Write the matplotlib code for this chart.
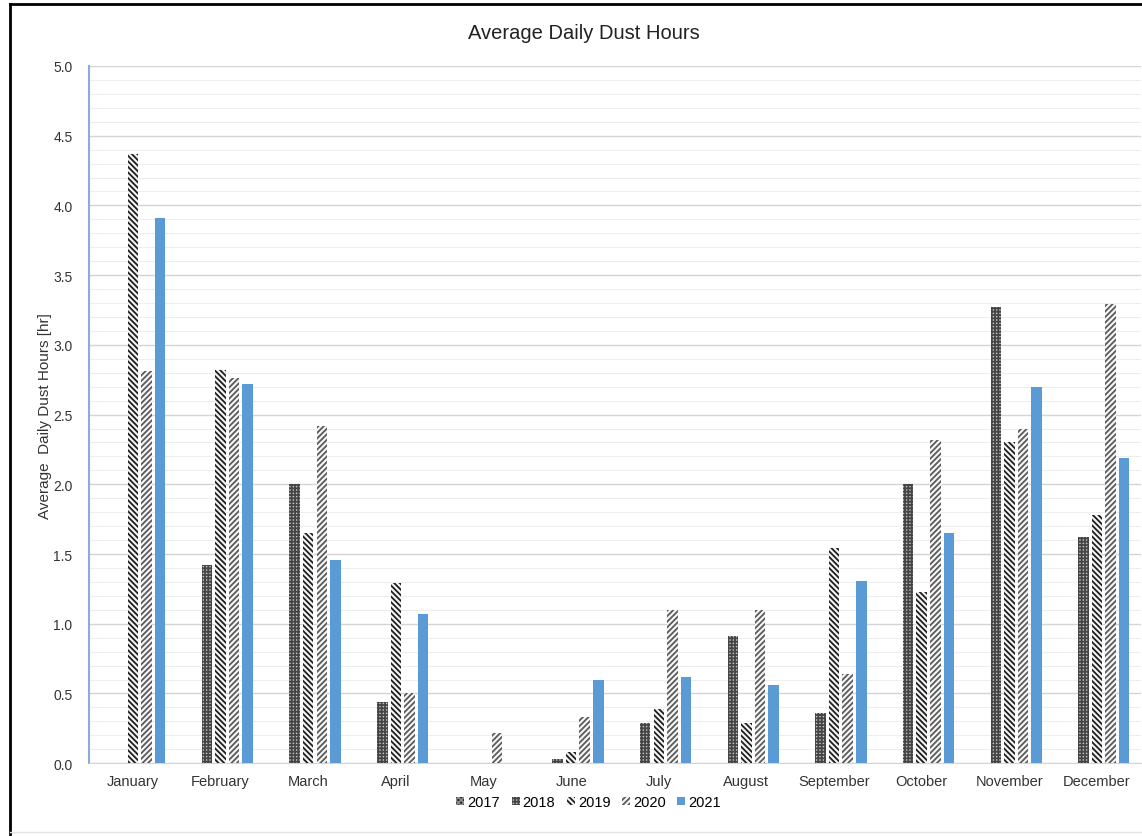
import numpy as np
import matplotlib
matplotlib.use("Agg")
import matplotlib.pyplot as plt
from matplotlib.lines import Line2D

plt.rcParams['font.family'] = ['Liberation Sans', 'DejaVu Sans']
plt.rcParams['hatch.linewidth'] = 1.3

# Data
months = ['January', 'February', 'March', 'April', 'May', 'June',
          'July', 'August', 'September', 'October', 'November', 'December']
years = ['2017', '2018', '2019', '2020', '2021']
v2017 = [0, 0, 0, 0, 0, 0, 0, 0, 0, 0, 0, 0]
v2018 = [0, 1.42, 2.00, 0.44, 0, 0.03, 0.29, 0.91, 0.36, 2.00, 3.27, 1.62]
v2019 = [4.37, 2.82, 1.65, 1.29, 0, 0.08, 0.39, 0.29, 1.54, 1.23, 2.30, 1.78]
v2020 = [2.81, 2.76, 2.42, 0.50, 0.22, 0.33, 1.10, 1.10, 0.64, 2.32, 2.40, 3.29]
v2021 = [3.91, 2.72, 1.46, 1.07, 0, 0.60, 0.62, 0.56, 1.31, 1.65, 2.70, 2.19]
series = [v2017, v2018, v2019, v2020, v2021]

# bar styles: facecolor, hatch colour, hatch
styles = [
    ('#262626', '#8a8a8a', 'xxxxxx'),
    ('#c4c4c4', '#454545', '+++++'),
    ('#f4f4f4', '#1e1e1e', '\\\\\\\\\\\\'),
    ('#f6f6f6', '#5a5a5a', '//////'),
    ('#5b9bd5', '#5b9bd5', None),
]

fig = plt.figure(figsize=(11.42, 8.37), dpi=100)
ax = fig.add_axes([0.078, 0.087, 0.921, 0.833])

x = np.arange(len(months))
slot = 0.155
width = 0.12
for i, vals in enumerate(series):
    fc, hc, hatch = styles[i]
    ax.bar(x + (i - 2) * slot, vals, width, color=fc, edgecolor=hc,
           hatch=hatch, linewidth=0, label=years[i], zorder=3)

ax.set_xlim(-0.5, len(months) - 0.5)
ax.set_ylim(0, 5.0)
ticks = np.arange(0, 5.01, 0.5)
ax.set_yticks(ticks)
ax.set_yticklabels([f'{t:.1f}' for t in ticks], fontsize=10, color='#333333')
ax.set_yticks(np.arange(0, 5.01, 0.1), minor=True)
ax.set_xticks(x)
ax.set_xticklabels(months, fontsize=10.5, color='#333333')
ax.tick_params(axis='both', which='both', length=0)
ax.tick_params(axis='x', pad=8)
ax.tick_params(axis='y', pad=12)

ax.grid(True, which='major', axis='y', color='#d4d4d4', linewidth=1.0, zorder=0)
ax.grid(True, which='minor', axis='y', color='#eeeeee', linewidth=0.8, zorder=0)

for s in ['top', 'right']:
    ax.spines[s].set_visible(False)
ax.spines['left'].set_color('#8eaadb')
ax.spines['left'].set_linewidth(1.5)
ax.spines['bottom'].set_color('#d4d4d4')

ax.set_ylabel('Average  Daily Dust Hours [hr]', fontsize=11, color='#333333', labelpad=1)
fig.text(0.511, 0.96, 'Average Daily Dust Hours', ha='center', va='center',
         fontsize=14.5, color='#222222')

ax.legend(loc='upper center', bbox_to_anchor=(0.475, -0.027), ncol=5, frameon=False,
          fontsize=10.5, handlelength=0.55, handleheight=0.55, handletextpad=0.2,
          columnspacing=0.8)

# outer frame of the screenshot
fig.add_artist(Line2D([10 / 1142, 1.0], [1 - 5 / 837, 1 - 5 / 837],
                      transform=fig.transFigure, color='black', linewidth=2))
fig.add_artist(Line2D([10 / 1142, 10 / 1142], [0, 1 - 5 / 837],
                      transform=fig.transFigure, color='black', linewidth=2))
fig.add_artist(Line2D([10 / 1142, 1.0], [4 / 837, 4 / 837],
                      transform=fig.transFigure, color='#e4e4e4', linewidth=1))

fig.savefig('out.png', dpi=100)
